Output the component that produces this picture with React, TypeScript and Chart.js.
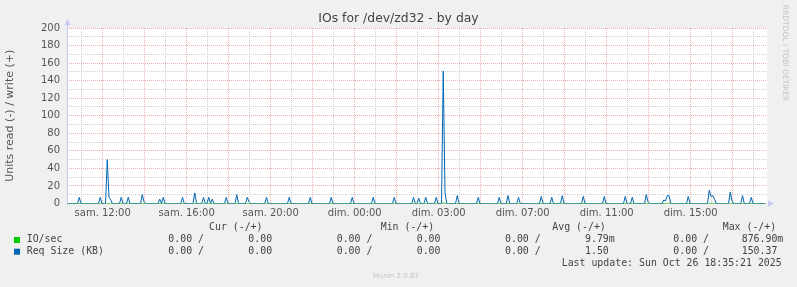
import React, { useEffect, useRef } from 'react';
import { Chart, registerables } from 'chart.js';

Chart.register(...registerables);

const W = 797;
const H = 287;

const TITLE = 'IOs for /dev/zd32 - by day';
const Y_TITLE = 'Units read (-) / write (+)';
const WATERMARK = 'RRDTOOL / TOBI OETIKER';
const VERSION = 'Munin 2.0.67';
const LAST_UPDATE = 'Last update: Sun Oct 26 18:35:21 2025';

// time axis: hours elapsed since left edge of the plot, 5-minute samples
const SAMPLES_PER_HOUR = 12;
const SAMPLE_COUNT = 400;
const X_MAX_HOURS = 33.333;
const xLabelHours = [1.7, 5.7, 9.7, 13.7, 17.7, 21.7, 25.7, 29.7];
const xLabels = ['sam. 12:00', 'sam. 16:00', 'sam. 20:00', 'dim. 00:00', 'dim. 03:00', 'dim. 07:00', 'dim. 11:00', 'dim. 15:00'];

const Y_MIN = 0;
const Y_MAX = 200;

// Req Size (KB): sample index -> value (all other samples are 0)
const reqSizeIdx = [7, 19, 23, 24, 25, 31, 35, 43, 44, 53, 55, 66, 73, 78, 81, 83, 91, 97, 103, 104, 114, 127, 139, 151, 163, 175, 187, 198, 201, 205, 211, 215, 216, 223, 235, 247, 252, 258, 271, 277, 283, 295, 307, 319, 323, 331, 332, 341, 342, 343, 344, 355, 367, 368, 369, 370, 379, 380, 386, 391];
const reqSizeVals = [7, 7, 50, 7, 4, 7, 7, 10, 2, 5, 7, 7, 12, 7, 7, 5, 7, 10, 7, 2, 7, 7, 7, 7, 7, 7, 7, 7, 6, 7, 7, 151, 12, 9, 7, 7, 9, 7, 8, 7, 9, 8, 8, 8, 7, 10, 2, 4, 3, 9, 9, 8, 15, 8, 9, 5, 13, 3, 9, 7];

// IO/sec
const ioIdx = [215];
const ioVals = [0.877];

// legend table
const legendNames = ['IO/sec', 'Req Size (KB)'];
const legendColors = ['#00cc00', '#0066b3'];
const curNeg = ['0.00', '0.00'];
const curPos = ['0.00', '0.00'];
const minNeg = ['0.00', '0.00'];
const minPos = ['0.00', '0.00'];
const avgNeg = ['0.00', '0.00'];
const avgPos = ['9.79m', '1.50'];
const maxNeg = ['0.00', '0.00'];
const maxPos = ['876.90m', '150.37'];

function buildSeries(idx: number[], vals: number[]) {
  const arr: number[] = new Array(SAMPLE_COUNT).fill(0);
  idx.forEach((i, k) => {
    arr[i] = vals[k];
  });
  return arr.map((v, i) => ({ x: i / SAMPLES_PER_HOUR, y: v }));
}

const MAJOR = 'rgba(232, 150, 150, 0.75)';
const MINOR = 'rgba(200, 200, 200, 0.85)';
const AXIS = '#c8c8f4';
const SANS = '"DejaVu Sans", sans-serif';
const MONO = '"DejaVu Sans Mono", monospace';

const decorPlugin = {
  id: 'muninDecor',
  beforeDraw(chart: any) {
    const { ctx, chartArea } = chart;
    ctx.save();
    ctx.fillStyle = '#f0f0f0';
    ctx.fillRect(0, 0, W, H);
    ctx.fillStyle = '#ffffff';
    ctx.fillRect(chartArea.left, chartArea.top, chartArea.right - chartArea.left, chartArea.bottom - chartArea.top);
    ctx.restore();
  },
  afterDraw(chart: any) {
    const { ctx, chartArea } = chart;
    ctx.save();
    // axis line + arrows
    ctx.strokeStyle = AXIS;
    ctx.fillStyle = AXIS;
    ctx.lineWidth = 1;
    ctx.beginPath();
    ctx.moveTo(chartArea.left + 0.5, chartArea.bottom - 1);
    ctx.lineTo(chartArea.left + 0.5, chartArea.top - 4);
    ctx.stroke();
    ctx.beginPath();
    ctx.moveTo(chartArea.left + 0.5, chartArea.top - 9);
    ctx.lineTo(chartArea.left - 2.5, chartArea.top - 3);
    ctx.lineTo(chartArea.left + 3.5, chartArea.top - 3);
    ctx.closePath();
    ctx.fill();
    ctx.beginPath();
    ctx.moveTo(chartArea.right + 7, chartArea.bottom);
    ctx.lineTo(chartArea.right + 1, chartArea.bottom - 3);
    ctx.lineTo(chartArea.right + 1, chartArea.bottom + 3);
    ctx.closePath();
    ctx.fill();

    // title
    ctx.fillStyle = '#444';
    ctx.font = `12.4px ${SANS}`;
    ctx.textAlign = 'center';
    ctx.textBaseline = 'alphabetic';
    ctx.fillText(TITLE, W / 2, 22);

    // watermark
    ctx.save();
    ctx.translate(785, 53);
    ctx.rotate(Math.PI / 2);
    ctx.fillStyle = '#c4c4c4';
    ctx.font = `7.5px ${SANS}`;
    ctx.textAlign = 'center';
    ctx.textBaseline = 'middle';
    ctx.fillText(WATERMARK, 0, 0);
    ctx.restore();

    // legend
    ctx.font = `9.9px ${MONO}`;
    ctx.textAlign = 'left';
    ctx.textBaseline = 'middle';
    ctx.fillStyle = '#444';
    const headY = 227.7;
    ctx.fillText('Cur (-/+)', 209, headY);
    ctx.fillText('Min (-/+)', 380.7, headY);
    ctx.fillText('Avg (-/+)', 552.3, headY);
    ctx.fillText('Max (-/+)', 722.7, headY);
    const rowY = [239.5, 251.2];
    legendNames.forEach((name, i) => {
      const y = rowY[i];
      ctx.fillStyle = legendColors[i];
      ctx.fillRect(14, y - 2.5, 6, 6);
      ctx.fillStyle = '#444';
      ctx.fillText(name, 26.7, y);
      ctx.fillText(`${curNeg[i]} /`, 168.3, y);
      ctx.fillText(curPos[i], 248.3, y);
      ctx.fillText(`${minNeg[i]} /`, 336.7, y);
      ctx.fillText(minPos[i], 416.7, y);
      ctx.fillText(`${avgNeg[i]} /`, 505, y);
      ctx.fillText(avgPos[i], 585, y);
      ctx.fillText(`${maxNeg[i]} /`, 673.3, y);
      ctx.fillText(maxPos[i], 741.7, y);
    });
    ctx.fillText(LAST_UPDATE, 561.7, 263.3);

    // version
    ctx.fillStyle = '#c4c4c4';
    ctx.font = `7px ${SANS}`;
    ctx.fillText(VERSION, 373, 276);
    ctx.restore();
  },
};

export default function App() {
  const ref = useRef<HTMLCanvasElement | null>(null);

  useEffect(() => {
    if (!ref.current) return;
    const gridTenths: number[] = [];
    for (let t = 7; t < X_MAX_HOURS * 10; t += 10) gridTenths.push(t);

    const chart = new Chart(ref.current, {
      type: 'line',
      data: {
        datasets: [
          {
            label: legendNames[0],
            data: buildSeries(ioIdx, ioVals),
            borderColor: legendColors[0],
            borderWidth: 1,
            pointRadius: 0,
            tension: 0,
            fill: false,
            order: 2,
          },
          {
            label: legendNames[1],
            data: buildSeries(reqSizeIdx, reqSizeVals),
            borderColor: legendColors[1],
            borderWidth: 1,
            pointRadius: 0,
            tension: 0,
            fill: false,
            order: 1,
          },
        ],
      },
      options: {
        animation: false,
        responsive: false,
        maintainAspectRatio: false,
        devicePixelRatio: 1,
        layout: { padding: { left: 0, top: 28, right: 30, bottom: 0 } },
        plugins: {
          legend: { display: false },
          tooltip: { enabled: false },
          title: { display: false },
        },
        scales: {
          x: {
            type: 'linear',
            min: 0,
            max: X_MAX_HOURS,
            afterBuildTicks: (scale: any) => {
              scale.ticks = gridTenths.map((t) => ({ value: t / 10 }));
            },
            afterFit: (scale: any) => {
              scale.height = 83.5;
            },
            grid: {
              drawTicks: false,
              color: (c: any) => {
                const v = c.tick ? c.tick.value : 0;
                const d = Math.round((v - 1.7) * 10);
                return d % 20 === 0 ? MAJOR : MINOR;
              },
            },
            border: { display: false, dash: [1, 1] },
            ticks: {
              autoSkip: false,
              maxRotation: 0,
              padding: 4,
              color: '#555',
              font: { family: SANS, size: 10 },
              callback: (value: any) => {
                const k = xLabelHours.findIndex((h) => Math.abs(h - Number(value)) < 0.01);
                return k >= 0 ? xLabels[k] : '';
              },
            },
          },
          y: {
            type: 'linear',
            min: Y_MIN,
            max: Y_MAX,
            afterFit: (scale: any) => {
              scale.width = 67;
            },
            grid: {
              drawTicks: false,
              color: (c: any) => {
                const v = c.tick ? c.tick.value : 0;
                return v % 20 === 0 ? MAJOR : MINOR;
              },
            },
            border: { display: false, dash: [1, 1] },
            title: {
              display: true,
              text: Y_TITLE,
              color: '#555',
              font: { family: SANS, size: 11 },
              padding: { top: 4, bottom: 0 },
            },
            ticks: {
              stepSize: 10,
              autoSkip: false,
              padding: 7,
              color: '#555',
              font: { family: SANS, size: 10 },
              callback: (value: any) => (Number(value) % 20 === 0 ? String(value) : ''),
            },
          },
        },
      },
      plugins: [decorPlugin],
    } as any);
    return () => chart.destroy();
  }, []);

  return (
    <div style={{ position: 'fixed', left: 0, top: 0, width: W, height: H, background: '#f0f0f0' }}>
      <canvas ref={ref} width={W} height={H} style={{ display: 'block', width: W, height: H }} />
    </div>
  );
}
